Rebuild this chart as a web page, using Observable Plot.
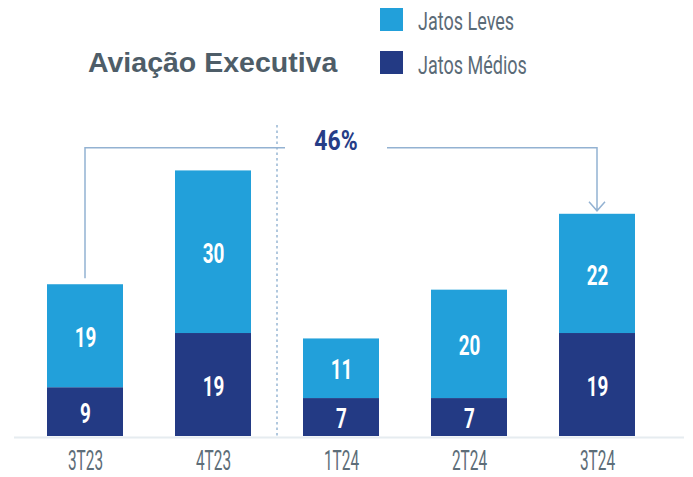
<!DOCTYPE html>
<html>
<head>
<meta charset="utf-8">
<script src="https://cdn.jsdelivr.net/npm/d3@7"></script>
<script src="https://cdn.jsdelivr.net/npm/@observablehq/plot@0.6"></script>
<style>
  body { margin: 0; background: #fff; }
  #wrap { position: relative; width: 693px; height: 477px; overflow: hidden; background: #fff; }
  #head { position: relative; height: 100px; }
  .title { position: absolute; left: 88px; top: 48px; font: bold 28.5px "Liberation Sans", Arial, sans-serif; color: #4e5d68; line-height: 1; white-space: nowrap; }
  .sw { position: absolute; left: 380px; width: 23px; height: 23px; }
  .lt { position: absolute; left: 418px; font: 26.5px Roboto, "DejaVu Sans", sans-serif; color: #5b6b77; line-height: 1; white-space: nowrap; transform-origin: 0 0; }
</style>
</head>
<body>
<div id="wrap">
  <div id="head"></div>
  <div id="chart"></div>
</div>
<script>
// ---- data ----
const quarters = ["3T23", "4T23", "1T24", "2T24", "3T24"];
const medios = [9, 19, 7, 7, 19];     // Jatos Médios
const leves = [19, 30, 11, 20, 22];   // Jatos Leves
const seriesNames = ["Jatos Médios", "Jatos Leves"];
const seriesColors = ["#233a84", "#22a0da"];
const legendOrder = ["Jatos Leves", "Jatos Médios"];
const titleText = "Aviação Executiva";
const growthLabel = "46%";
const growthFrom = "3T23";
const growthTo = "3T24";
const dividerAfter = "4T23";

// condensed look: horizontal squeeze factors for the narrow display face
const squeezeTick = 0.57, squeezeValue = 0.7, squeezeGrowth = 0.82, squeezeLegend = 0.68;
const tickFontSize = 27;

// ---- header (title + legend) ----
const head = document.getElementById("head");
const t = document.createElement("div");
t.className = "title"; t.textContent = titleText; head.appendChild(t);
legendOrder.forEach((name, i) => {
  const sw = document.createElement("div");
  sw.className = "sw";
  sw.style.top = (8 + i * 43) + "px";
  sw.style.background = seriesColors[seriesNames.indexOf(name)];
  head.appendChild(sw);
  const lt = document.createElement("div");
  lt.className = "lt";
  lt.style.top = (7.7 + i * 44) + "px";
  lt.style.transform = `scaleX(${squeezeLegend})`;
  lt.textContent = name;
  head.appendChild(lt);
});

// ---- chart ----
const data = [];
quarters.forEach((q, i) => {
  data.push({ q, s: "Jatos Médios", v: medios[i] });
  data.push({ q, s: "Jatos Leves", v: leves[i] });
});

const face = 'Roboto, "DejaVu Sans", sans-serif';

const plot = Plot.plot({
  width: 693,
  height: 377,
  marginLeft: 14,
  marginRight: 9,
  marginTop: 0,
  marginBottom: 41,
  x: { domain: quarters, range: [34, 648], paddingInner: 0.406, paddingOuter: 0.1, align: 0.5, label: null },
  y: { domain: [0, 60], range: [336, 10.8], axis: null },
  color: { domain: seriesNames, range: seriesColors },
  style: { fontFamily: face, background: "white", overflow: "visible" },
  marks: [
    Plot.ruleY([0], { stroke: "#e6ecf0", strokeWidth: 2, dy: 1 }),
    Plot.barY(data, { x: "q", y: "v", fill: "s" }),
    Plot.text(data, Plot.stackY({ x: "q", y: "v", text: d => String(d.v), fill: "white", fontSize: 27, fontWeight: "bold", dy: 2 })),
    Plot.axisX({ tickSize: 0, tickPadding: 14, fontSize: tickFontSize, fill: "#5d6d78", label: null })
  ]
});
document.getElementById("chart").appendChild(plot);

const svg = d3.select(plot);

function squeeze(sel, k) {
  sel.each(function () {
    const tr = this.getAttribute("transform");
    if (tr && /translate/.test(tr)) {
      this.setAttribute("transform", tr + ` scale(${k},1)`);
    } else {
      const x = +this.getAttribute("x") || 0;
      this.setAttribute("transform", `translate(${x},0) scale(${k},1) translate(${-x},0)`);
    }
  });
}
squeeze(svg.selectAll('g[aria-label="x-axis tick label"] text'), squeezeTick);
squeeze(svg.selectAll('g[aria-label="text"] text'), squeezeValue);

// ---- annotation, placed through the plot's scales ----
const sx = plot.scale("x"), sy = plot.scale("y");
const cx = q => sx.apply(q) + sx.bandwidth / 2;
const total = q => { const i = quarters.indexOf(q); return medios[i] + leves[i]; };
const g = svg.append("g");
const bracketY = sy.apply(53.2);
const nextQ = quarters[quarters.indexOf(dividerAfter) + 1];
const divX = (cx(dividerAfter) + cx(nextQ)) / 2;
const textX = cx(nextQ) - 5;
const lineColor = "#93b2d2";

g.append("line")
  .attr("x1", divX).attr("x2", divX)
  .attr("y1", sy.apply(57.4)).attr("y2", sy.apply(0))
  .attr("stroke", "#a9c3db").attr("stroke-width", 1.8).attr("stroke-dasharray", "2.5,3");

g.append("path")
  .attr("d", `M${cx(growthFrom)},${sy.apply(total(growthFrom)) - 6}V${bracketY}H${textX - 51}`)
  .attr("fill", "none").attr("stroke", lineColor).attr("stroke-width", 1.5);

const tipY = sy.apply(total(growthTo)) - 3;
const tx = cx(growthTo);
g.append("path")
  .attr("d", `M${textX + 51},${bracketY}H${tx}V${tipY}M${tx - 8},${tipY - 9}L${tx},${tipY}L${tx + 8},${tipY - 9}`)
  .attr("fill", "none").attr("stroke", lineColor).attr("stroke-width", 1.5);

g.append("text")
  .attr("transform", `translate(${textX},${bracketY + 2.5}) scale(${squeezeGrowth},1)`)
  .attr("text-anchor", "middle")
  .attr("fill", "#263d87")
  .attr("font-weight", "bold")
  .attr("font-size", 28)
  .attr("font-family", face)
  .text(growthLabel);
</script>
</body>
</html>
